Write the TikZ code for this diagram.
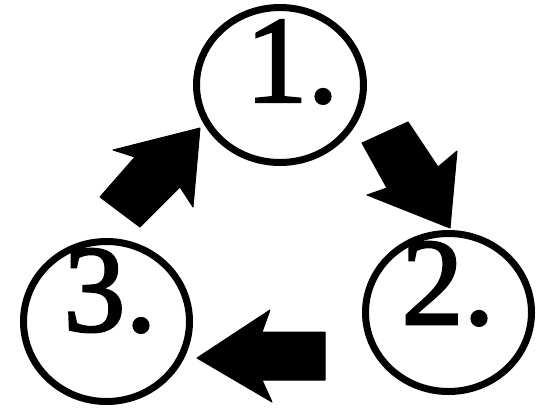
\documentclass[tikz,border=0pt]{standalone}
\usepackage{fontspec}
\setmainfont{Liberation Serif}
\newfontfamily\numfont[FakeBold=2]{Liberation Serif}
\usetikzlibrary{shapes.geometric}
\tikzset{
  ring/.style={draw=black, line width=7pt, ellipse, inner sep=0pt},
  num/.style={anchor=base, inner sep=0pt, font=\numfont\fontsize{124}{124}\selectfont},
  blockarrow/.style={fill=black, draw=black, line width=1pt, line join=round}
}
\begin{document}
\begin{tikzpicture}[x=1pt,y=-1pt]
\useasboundingbox (0,0) rectangle (548,407);
\fill[white] (0,0) rectangle (548,407);
% circles
\node[ring, minimum width=167pt, minimum height=155pt] (c1) at (280,85) {};
\node[ring, minimum width=166pt, minimum height=158pt] (c2) at (448.5,312.5) {};
\node[ring, minimum width=166pt, minimum height=160pt] (c3) at (106.5,321.5) {};
% labels
\node[num] (t1) at (292,102) {1.};
\node[num] (t2) at (448,324) {2.};
\node[num] (t3) at (110,331) {3.};
% block arrows
\coordinate (a3to1) at (200,128);
\coordinate (a1to2) at (450,228);
\coordinate (a2to3) at (197,358);
\filldraw[blockarrow] (a3to1) -- (193,207) -- (180,187) -- (140,227) -- (100,197)
  -- (135,157) -- (113,150) -- cycle;
\filldraw[blockarrow] (408,122) -- (438,167) -- (457,151) -- (a1to2) -- (367,195)
  -- (387,188) -- (362,143) -- cycle;
\filldraw[blockarrow] (a2to3) -- (270,310) -- (262,332) -- (325,332) -- (325,380)
  -- (262,380) -- (272,402) -- cycle;
\end{tikzpicture}
\end{document}
